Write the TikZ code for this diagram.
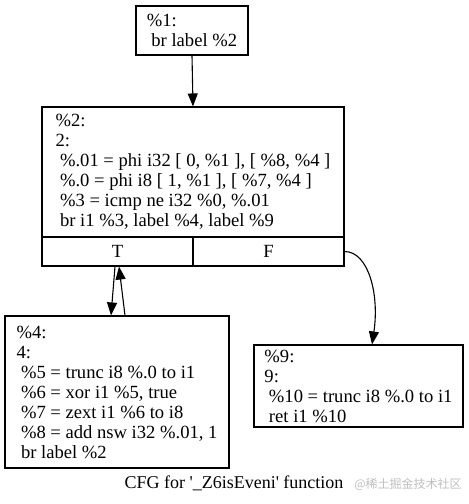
\documentclass[tikz,border=0pt]{standalone}
\usepackage{fontspec}
\setmainfont{Liberation Serif}
\newfontfamily\cjk{Noto Sans CJK SC}
\usetikzlibrary{arrows.meta,calc}
\newcommand\myind{\hspace*{4.5pt}}
\begin{document}
\begin{tikzpicture}[x=1pt,y=-1pt,
  block/.style={draw,line width=1.1pt,align=left,inner xsep=10pt,font=\fontsize{18.6}{20}\selectfont},
  cell/.style={draw,line width=1.1pt,font=\fontsize{18.6}{20}\selectfont,minimum height=29pt,minimum width=151pt,inner sep=0pt},
  edge/.style={line width=1.1pt,-{Triangle[length=13pt,width=10pt]}}]
\useasboundingbox (0,0) rectangle (469,504);
\node[block,minimum width=112pt,minimum height=49pt] (b1) at (192,30.5)
  {\%1:\\\myind br label \%2};
\node[block,minimum width=302pt,minimum height=130pt] (b2) at (193,172)
  {\%2:\\2:\\\myind\%.01 = phi i32 [ 0, \%1 ], [ \%8, \%4 ]\\\myind\%.0 = phi i8 [ 1, \%1 ], [ \%7, \%4 ]\\\myind\%3 = icmp ne i32 \%0, \%.01\\\myind br i1 \%3, label \%4, label \%9};
\node[cell] (T) at (117.5,251.5) {T};
\node[cell] (F) at (268.5,251.5) {F};
\node[block,minimum width=224pt,minimum height=152pt] (b4) at (117,392)
  {\%4:\\4:\\\myind\%5 = trunc i8 \%.0 to i1\\\myind\%6 = xor i1 \%5, true\\\myind\%7 = zext i1 \%6 to i8\\\myind\%8 = add nsw i32 \%.01, 1\\\myind br label \%2};
\node[block,minimum width=209pt,minimum height=82pt] (b9) at (358.5,386)
  {\%9:\\9:\\\myind\%10 = trunc i8 \%.0 to i1\\\myind ret i1 \%10};
\draw[edge] (b1.south) -- (b2.north);
\draw[edge] ([xshift=-2.5pt]T.south) -- ([xshift=-6pt]b4.north);
\draw[edge] ([xshift=8pt]b4.north) -- ([xshift=1.5pt]T.south);
\draw[edge] (F.east) .. controls ($(F.east)+(24,0)$) and ($(b9.north)+(21,-50)$) .. ([xshift=13.5pt]b9.north);
\node[font=\fontsize{18}{20}\selectfont,inner sep=0pt] (cap) at (234,483) {CFG for \textquotesingle\_Z6isEveni\textquotesingle{} function};
\node[font=\cjk\fontsize{12}{12}\selectfont,text=black!25,inner sep=0pt] (wm) at (408,484) {@稀土掘金技术社区};
\end{tikzpicture}
\end{document}
